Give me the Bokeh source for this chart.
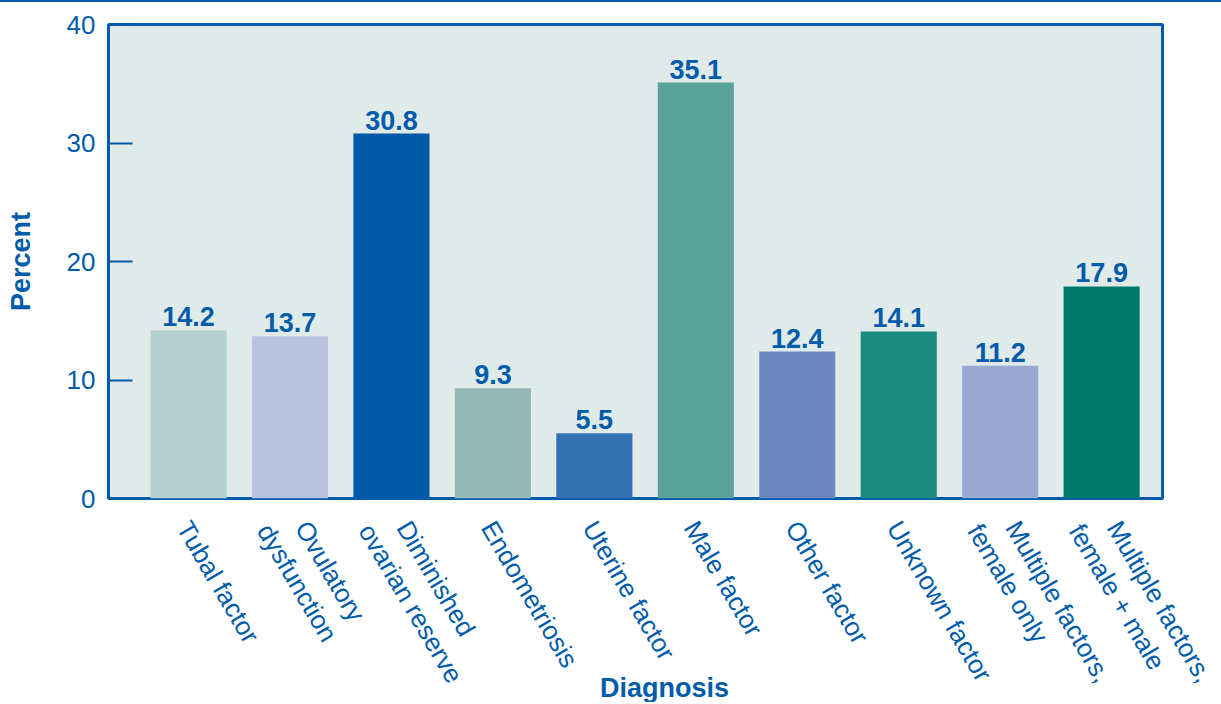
from bokeh.plotting import figure
from bokeh.models import ColumnDataSource, FixedTicker, Label, Range1d, Div
from bokeh.layouts import column
from bokeh.core.properties import value
from bokeh.embed import file_html
from bokeh.resources import INLINE

categories = ["Tubal factor", "Ovulatory\ndysfunction", "Diminished\novarian reserve",
              "Endometriosis", "Uterine factor", "Male factor", "Other factor",
              "Unknown factor", "Multiple factors,\nfemale only", "Multiple factors,\nfemale + male"]
percents = [14.2, 13.7, 30.8, 9.3, 5.5, 35.1, 12.4, 14.1, 11.2, 17.9]
colors = ["#B5D0D0", "#B8C3E0", "#005AA9", "#92B9B7", "#3470B4",
          "#5AA19A", "#6C88C1", "#1B8A80", "#98A9D4", "#007A6D"]
y_ticks = [0, 10, 20, 30, 40]

BLUE = "#005BAA"
FONT = "Liberation Sans"

W = 1221
LEFT, RIGHT = 108, 59          # frame borders (px)
X0, X1 = -0.789, 9.60          # category index range of the frame
H_TOP, H_BOTTOM = 512, 188
ANGLE = -1.04

idx = list(range(len(categories)))
src = ColumnDataSource(dict(x=idx, top=percents, color=colors,
                            label=[f"{v:.1f}" for v in percents]))


def no_align(plot):
    if "frame_align" in plot.properties():
        plot.frame_align = False


# ---------------- main chart ----------------
fig = figure(width=W, height=H_TOP, output_backend="svg", toolbar_location=None,
             x_range=Range1d(X0, X1), y_range=Range1d(0, 40), x_axis_location=None,
             min_border_left=LEFT, min_border_right=RIGHT, min_border_top=22, min_border_bottom=16)
no_align(fig)
fig.background_fill_color = "#E0EAE9"
fig.border_fill_color = "white"
fig.outline_line_color = BLUE
fig.outline_line_width = 3
fig.grid.visible = False

fig.vbar(x="x", top="top", width=0.75, bottom=0, fill_color="color", line_color=None, source=src)
fig.text(x="x", y="top", text="label", text_align="center", text_baseline="bottom",
         y_offset=-4, text_color=BLUE, text_font=value(FONT), text_font_style="bold",
         text_font_size="27px", source=src)

ya = fig.yaxis[0]
ya.ticker = FixedTicker(ticks=y_ticks)
ya.axis_line_color = None
ya.major_tick_in = 24
ya.major_tick_out = 0
ya.major_tick_line_color = BLUE
ya.major_tick_line_width = 2
ya.minor_tick_line_color = None
ya.major_label_text_color = BLUE
ya.major_label_text_font = FONT
ya.major_label_text_font_size = "26px"
ya.major_label_standoff = 13
ya.axis_label = "Percent"
ya.axis_label_text_color = BLUE
ya.axis_label_text_font = FONT
ya.axis_label_text_font_style = "bold"
ya.axis_label_text_font_size = "27px"
ya.axis_label_standoff = 28

# ---------------- category labels strip ----------------
u = (X1 - X0) / (W - LEFT - RIGHT)
lab = figure(width=W, height=H_BOTTOM, output_backend="svg", toolbar_location=None,
             x_range=Range1d(X0 - LEFT * u, X1 + RIGHT * u), y_range=Range1d(0, 1),
             x_axis_location=None, y_axis_location=None,
             min_border_left=0, min_border_right=0, min_border_top=0, min_border_bottom=0)
no_align(lab)
lab.outline_line_color = None
lab.background_fill_color = "white"
lab.border_fill_color = "white"
lab.grid.visible = False

single = [c for c in categories if "\n" not in c]
single_x = [i for i, c in zip(idx, categories) if "\n" not in c]
double = [c.split("\n") for c in categories if "\n" in c]
double_x = [i for i, c in zip(idx, categories) if "\n" in c]

txt = dict(angle=ANGLE, text_align="left", text_baseline="top", text_color=BLUE,
           text_font=value(FONT), text_font_size="26px")
s1 = ColumnDataSource(dict(x=single_x, y=[1] * len(single_x), text=single))
lab.text(x="x", y="y", text="text", source=s1, x_offset=8, y_offset=1, **txt)
s2 = ColumnDataSource(dict(x=double_x, y=[1] * len(double_x), text=[d[0] for d in double]))
lab.text(x="x", y="y", text="text", source=s2, x_offset=25, y_offset=1, **txt)
s3 = ColumnDataSource(dict(x=double_x, y=[1] * len(double_x), text=[d[1] for d in double]))
lab.text(x="x", y="y", text="text", source=s3, x_offset=-13, y_offset=4, **txt)

lab.add_layout(Label(x=664, y=15, x_units="screen", y_units="screen", text="Diagnosis",
                     text_align="center", text_baseline="alphabetic", text_color=BLUE,
                     text_font=FONT, text_font_style="bold", text_font_size="27px"))

rule = Div(text="", width=W, height=2, margin=(0, 0, 0, 0),
           styles={"background-color": BLUE})

p = column(rule, fig, lab, spacing=0)

open("out.html", "w").write(file_html(p, INLINE))
